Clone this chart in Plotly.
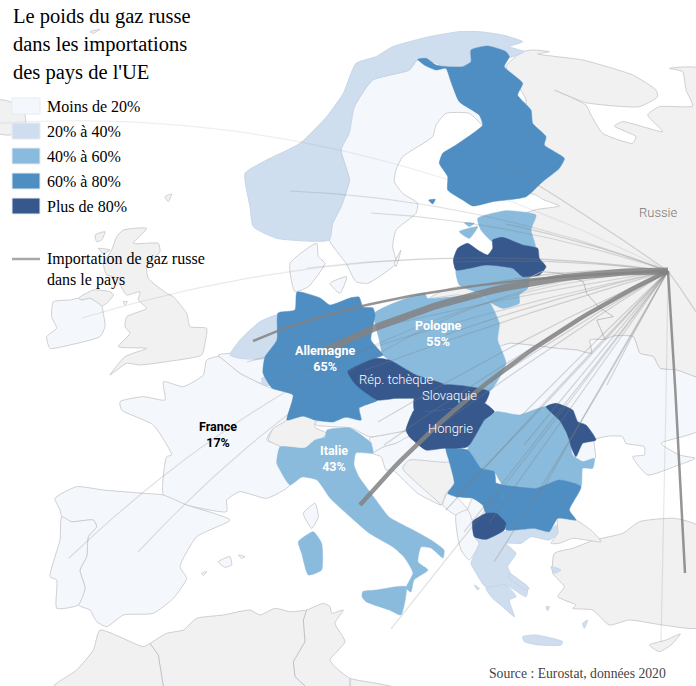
import numpy as np
import plotly.graph_objects as go

TITLE_LINES = ["Le poids du gaz russe", "dans les importations", "des pays de l'UE"]
BIN_LABELS = ["Moins de 20%", "20% à 40%", "40% à 60%", "60% à 80%", "Plus de 80%"]
BIN_COLORS = ["#f4f8fc", "#cfdeef", "#8abbdc", "#4f8ec3", "#37588c"]
GREY = "#f1f1f1"
EDGE = "#c9c9ce"

def at(ox, oy, pts):
    return [(ox + a / 3, oy + b / 3) for a, b in pts]

RUSSIA = (at(346, 0, [(530,155),(560,150),(610,155),(575,162),(710,180),(860,225),(930,270),(935,290),(880,320),(720,308),(625,270),(720,315),(735,345),(770,400),(860,430),(870,410),(805,378),(830,365),(950,395),(905,345),(940,320),(1040,318),(1020,270),(1010,215),(970,205),(1060,205),(1060,400)])
          + [(700, 377)]
          + at(480, 250, [(645,380),(590,360),(540,355),(520,320),(480,310),(460,260),(400,258),(375,268),(330,270),(335,310),(290,300),(230,295),(150,285),(90,280),(55,292),(20,292)])
          + at(346, 0, [(430,900),(520,790),(500,660),(565,630),(640,618),(590,598),(570,585),(500,560),(540,300),(480,200)]))
KALININGRAD = at(346, 0, [(250,895),(290,872),(340,860),(400,880),(402,888),(330,885)])
TURKEY_A = at(346, 340, [(625,640),(680,625),(745,600),(830,580),(880,545),(985,535),(1060,560),(1060,862),(950,855),(850,840),(790,855),(740,810),(680,805),(690,795),(635,770),(655,740),(620,700)])
TURKEY_E = at(346, 340, [(635,535),(690,540),(740,575),(765,605),(680,595),(640,610),(615,610),(635,580)])
CYPRUS = at(346, 340, [(910,915),(960,900),(1003,882),(975,915),(940,935)])
AFRICA = (at(0, 340, [(160,1040),(230,990),(280,930),(300,870)])
          + at(150, 580, [(-20,200),(0,190),(50,160),(100,150),(140,115),(220,105),(300,90),(330,105),(375,85),(420,95),(470,90),(520,70),(540,80),(545,100),(580,90),(555,130),(585,185),(540,240),(560,265),(600,295),(680,310),(720,318),(780,330)]))
GB = at(30, 220, [(260,50),(280,30),(350,25),(310,70),(385,70),(390,95),(350,140),(355,175),(410,220),(430,230),(470,280),(480,320),(530,325),(525,370),(515,405),(410,425),(330,435),(290,430),(240,465),(285,410),(350,385),(265,380),(300,340),(285,320),(290,290),(350,265),(325,240),(330,215),(290,225),(265,185),(250,170),(230,165),(220,130),(245,90)])
N_IRELAND = at(30, 220, [(145,235),(190,210),(240,215),(250,225),(230,250),(215,258),(180,235),(155,240)])
IRELAND = at(30, 220, [(70,245),(120,240),(145,235),(155,240),(180,235),(215,258),(220,280),(225,320),(210,350),(120,375),(60,385),(50,350),(80,325),(65,290)])
ICELAND = at(0, 0, [(-5,300),(30,305),(75,345),(75,385),(30,405),(-5,400)])
ISLES = [at(30, 220, [(195,45),(225,35),(215,60),(200,65)]), at(30, 220, [(205,85),(240,90),(220,100)]), at(30, 220, [(280,245),(292,245),(285,255)]),
         at(0, 0, [(495,590),(515,582),(505,605)]), at(0, 0, [(270,95),(300,88),(280,100)])]
BOSNIA = at(346, 340, [(170,385),(190,360),(310,365),(325,430),(300,460),(285,495)])
SWISS = at(0, 340, [(805,300),(820,265),(860,240),(910,228),(945,240),(945,262),(980,280),(960,300),(915,325),(880,325),(840,320)])

SWEDEN = at(346, 0, [(0,790),(-50,720),(-40,670),(-15,620),(10,540),(-15,450),(0,410),(25,320),(80,240),(190,210),(215,180),(240,195),(300,205),(315,245),(340,305),(400,345),(410,375),(370,340),(300,340),(270,375),(260,410),(170,470),(150,510),(145,545),(170,580),(215,610),(210,640),(150,690),(140,740),(150,790),(100,830),(65,850),(30,845)])
GOTLAND = at(346, 0, [(165,750),(150,800),(145,790)])
DENMARK = at(0, 0, [(870,790),(950,730),(955,770),(975,790),(925,860),(885,875)])
DK_ISLE = at(0, 0, [(990,850),(1040,830),(1020,880)])
BELGIUM = at(0, 340, [(655,45),(690,40),(790,45),(810,105),(785,130),(720,100)])
FRANCE = at(0, 340, [(655,50),(620,60),(610,105),(550,140),(490,125),(495,180),(430,170),(360,185),(365,210),(460,255),(515,345),(500,350),(490,465),(560,495),(680,515),(680,480),(720,455),(800,475),(870,435),(830,370),(840,320),(800,300),(820,265),(860,240),(880,165),(815,145),(790,135),(720,100)])
CORSICA = at(0, 340, [(910,520),(945,490),(955,530),(935,565)])
SPAIN = at(0, 340, [(165,475),(230,440),(310,450),(430,460),(490,465),(560,495),(690,540),(590,590),(540,680),(560,715),(520,775),(460,820),(370,825),(320,860),(290,845),(270,810),(235,795),(255,745),(240,690),(260,650),(265,590),(290,560),(280,540),(215,545),(185,530),(180,510)])
PORTUGAL = at(0, 340, [(185,530),(215,545),(280,540),(290,560),(265,590),(260,650),(240,690),(255,745),(235,795),(170,805),(170,720),(150,710),(180,600)])
BALEARIC = [at(0, 340, [(655,665),(690,650),(695,675),(675,682)]), at(0, 340, [(715,645),(735,650),(725,655)]), at(0, 340, [(605,700),(620,695),(610,707)])]
AUSTRIA = at(346, 340, [(-90,245),(0,232),(45,240),(40,205),(95,180),(150,175),(205,175),(210,210),(190,240),(180,270),(115,285),(70,290),(20,265),(0,262),(-90,255)])
SLOVENIA = at(346, 340, [(70,295),(115,285),(180,275),(190,290),(150,310),(115,320),(80,340),(75,310)])
CROATIA = at(346, 340, [(80,340),(115,320),(150,310),(190,290),(240,330),(300,325),(310,365),(190,360),(170,385),(285,495),(215,460),(140,390),(120,390),(105,350)])
UKRAINE = (at(480, 250, [(55,292),(90,280),(150,285),(230,295),(290,300),(335,310),(330,270),(375,268),(400,258),(460,260),(480,310),(520,320),(540,355),(590,360),(645,380),(660,385)])
           + at(346, 340, [(1060,100),(1060,270),(945,310),(1000,345),(1047,355),(990,378),(905,405),(860,350),(895,345),(895,320),(840,310),(830,290),(790,288),(745,300),(748,355),(710,365),(600,300),(420,200),(440,100)]))
MONTENEGRO = at(346, 340, [(290,495),(305,460),(330,470),(365,510),(330,525)])
KOSOVO = at(346, 340, [(380,475),(410,495),(420,520),(380,545),(365,510)])
ALBANIA = at(346, 340, [(330,525),(365,510),(380,545),(385,590),(400,610),(370,660),(345,630),(335,590)])

NORWAY = at(0, 0, [(830,715),(760,680),(750,620),(735,520),(800,480),(900,430),(980,350),(1030,280)]) + at(346, 0, [(30,190),(90,170),(140,140),(250,110),(340,95),(400,95),(470,105),(530,125),(490,140),(535,155),(480,175),(470,160),(425,138),(375,150),(375,185),(350,200),(300,200),(240,178),(215,178),(190,210),(80,240),(25,320),(10,400),(-15,450),(10,540),(-15,620),(-40,670),(-50,720)])
NETHERLANDS = at(0, 0, [(835,945),(780,965),(720,1020),(690,1065),(720,1075),(795,1075),(830,1020)])
LUXEMBOURG = at(0, 340, [(785,115),(810,108),(815,135),(790,135)])
GREECE_M = at(346, 340, [(385,590),(420,598),(475,575),(565,565),(610,575),(630,555),(635,580),(610,600),(555,590),(525,610),(480,610),(510,640),(485,680),(500,710),(545,740),(540,770),(480,735),(420,742),(385,690),(375,670),(400,610)])
GREECE_P = at(346, 340, [(420,745),(480,735),(510,770),(490,780),(505,830),(470,800),(440,775)])
CRETE = at(346, 340, [(530,890),(570,885),(650,905),(645,915),(580,915),(535,905)])
GR_ISLES = [at(346, 340, [(490,700),(550,745),(540,750),(490,715)]), at(346, 340, [(385,735),(400,745),(395,750)]),
            at(346, 340, [(710,850),(725,840),(715,865)]), at(346, 340, [(615,680),(645,690),(625,700)]), at(346, 340, [(600,800),(610,800),(605,812)])]

ESTONIA = at(346, 0, [(395,655),(480,632),(570,645),(555,690),(568,740),(530,735),(470,712),(440,725),(405,690)])
EE_ISLES = [at(346, 0, [(340,695),(395,680),(370,715)]), at(346, 0, [(355,668),(385,670),(370,680)])]
LITHUANIA = at(346, 0, [(330,810),(420,795),(500,805),(530,830),(550,830),(545,865),(520,885),(520,910),(470,925),(430,905),(400,880),(340,855)])
POLAND = (at(346, 0, [(85,940),(235,880),(245,895),(400,885),(430,905),(460,970),(455,1020)])
          + at(346, 340, [(480,70),(430,155),(370,140),(295,135),(210,105),(130,60),(110,45),(100,0)]))
ITALY = [(280,447),(305,448),(315,440),(325,437),(327,430),(350,428),(368,440),(371,443),(373,453),(356,453),(354,465),(359,477),(376,500),(389,517),(413,530),(431,540),(444,550),(443,558),(431,548),(421,547),(418,562),(428,570),(414,580),(411,592),(406,588),(413,573),(404,557),(393,547),(369,533),(346,513),(330,498),(317,480),(302,477),(290,485),(277,463)]
SICILY = at(346, 340, [(48,770),(50,755),(90,750),(180,740),(165,825),(130,810),(60,785)])
SARDINIA = at(0, 340, [(895,605),(940,575),(965,610),(965,690),(925,705),(905,640)])
ROMANIA = at(346, 340, [(450,215),(520,225),(600,200),(640,240),(670,300),(680,345),(710,365),(745,355),(740,385),(710,385),(705,440),(640,420),(570,445),(470,435),(445,395),(405,385),(365,330),(415,240)])

FINLAND = at(346, 0, [(215,178),(240,175),(270,195),(300,200),(350,200),(375,185),(375,150),(425,138),(480,155),(490,170),(475,200),(530,250),(515,285),(555,330),(560,370),(600,410),(595,435),(655,475),(640,505),(590,545),(540,590),(440,605),(380,618),(350,600),(305,570),(305,530),(280,490),(290,460),(330,435),(410,375),(400,345),(340,305),(315,245),(300,205),(270,210),(235,195)])
ALAND = at(346, 0, [(248,600),(268,598),(260,612)])
GERMANY = [(297,292),(320,298),(330,305),(350,298),(359,297),(363,307),(373,308),(375,315),(371,340),(383,355),(376,358),(348,372),(356,385),(378,400),(359,408),(361,420),(346,417),(333,422),(315,420),(303,416),(287,420),(293,395),(272,388),(263,373),(265,357),(277,340),(278,313),(295,310)]
SERBIA = at(346, 340, [(300,325),(365,330),(405,385),(445,395),(450,430),(470,470),(450,520),(420,520),(410,495),(380,475),(330,470),(305,460),(325,430),(310,365)])
BULGARIA = at(346, 340, [(450,430),(470,435),(570,445),(640,420),(705,440),(670,510),(690,540),(635,535),(610,575),(565,565),(480,570),(480,550),(450,520),(470,470)])

LATVIA = at(346, 0, [(322,780),(335,745),(365,730),(395,750),(425,765),(440,745),(440,720),(470,712),(530,735),(575,745),(580,775),(600,800),(580,825),(530,830),(500,805),(420,795),(330,810)])
CZECHIA = at(346, 340, [(5,95),(90,55),(130,60),(210,105),(295,135),(240,175),(205,175),(150,175),(95,180),(30,135)])
SLOVAKIA = at(346, 340, [(205,175),(240,175),(295,135),(370,140),(430,155),(415,190),(320,205),(240,215),(205,210)])
HUNGARY = at(346, 340, [(205,210),(240,215),(320,205),(415,190),(445,215),(415,240),(365,320),(290,325),(240,330),(190,290),(180,270),(190,240)])
MOLDOVA = at(346, 340, [(600,200),(630,190),(680,210),(695,245),(720,255),(750,300),(710,310),(690,350),(675,320),(670,300),(660,275),(640,240)])
MACEDONIA = at(346, 340, [(380,545),(420,520),(450,520),(480,550),(475,570),(420,598),(385,590)])

GREY_SHAPES = [RUSSIA, KALININGRAD, TURKEY_A, TURKEY_E, CYPRUS, AFRICA, GB, N_IRELAND, ICELAND, BOSNIA, SWISS] + ISLES
BIN0 = [SWEDEN, GOTLAND, DENMARK, DK_ISLE, IRELAND, BELGIUM, FRANCE, CORSICA, SPAIN, PORTUGAL, AUSTRIA, SLOVENIA, CROATIA, UKRAINE, MONTENEGRO, KOSOVO, ALBANIA] + BALEARIC
BIN1 = [NORWAY, NETHERLANDS, LUXEMBOURG, GREECE_M, GREECE_P, CRETE] + GR_ISLES
BIN2 = [ESTONIA, LITHUANIA, POLAND, ITALY, SICILY, SARDINIA, ROMANIA] + EE_ISLES
BIN3 = [FINLAND, ALAND, GERMANY, SERBIA, BULGARIA]
BIN4 = [LATVIA, CZECHIA, SLOVAKIA, HUNGARY, MOLDOVA, MACEDONIA]

BORDERS = [
    at(480, 250, [(145,85),(185,65),(245,70),(310,95),(320,130),(355,170),(400,200),(350,210),(375,268)]),
    at(150, 580, [(0,190),(25,225),(40,318)]),
    at(150, 580, [(470,90),(460,120),(465,185),(430,245),(435,290),(465,318)]),
    at(150, 580, [(600,295),(600,318)]),
]

SOURCE = (668, 271)
FLOW_END_X = [-10, 82, 307, 290, 371, 501, 506, 455, 480, 247, 268, 69, 138, 378, 384, 365, 470, 440, 524, 533, 456, 489, 464, 446, 494, 391, 522, 607, 661, 720, 445]
FLOW_END_Y = [124, 318, 268, 191, 213, 162, 224, 262, 285, 362, 382, 558, 552, 422, 445, 370, 395, 425, 445, 507, 497, 523, 532, 510, 562, 629, 415, 385, 642, 350, 335]
FLOW_MID_X = [330, 375, 490, 480, 520, 585, 590, 560, 575, 455, 465, 360, 403, 525, 525, 515, 570, 555, 598, 600, 565, 580, 568, 558, 585, 532, 595, 637, 665, 695, 555]
FLOW_MID_Y = [148, 262, 258, 215, 232, 215, 245, 262, 272, 310, 320, 352, 340, 340, 352, 318, 330, 345, 355, 388, 383, 395, 400, 388, 415, 450, 342, 327, 455, 310, 300]
FLOW_ALPHA = [0.12, 0.16, 0.2, 0.22, 0.25, 0.3, 0.3, 0.3, 0.3, 0.25, 0.25, 0.22, 0.22, 0.3, 0.3, 0.3, 0.3, 0.3, 0.3, 0.3, 0.3, 0.3, 0.3, 0.3, 0.3, 0.25, 0.3, 0.3, 0.18, 0.3, 0.3]
THICK_END_X = [253, 322, 360, 685]
THICK_END_Y = [341, 352, 505, 573]
THICK_MID_X = [427, 490, 500, 677]
THICK_MID_Y = [293, 291, 373, 420]
THICK_W = [2.5, 7, 4.5, 2.5]

LABELS_BOLD = [("Allemagne<br>65%", 325, 358, "white"), ("Pologne<br>55%", 438, 333, "white"),
               ("Italie<br>43%", 334, 458, "white"), ("France<br>17%", 218, 434, "black")]
LABELS_LIGHT = [("Rép. tchèque", 396, 379), ("Slovaquie", 449, 395), ("Hongrie", 450, 428)]

SERIF = "Liberation Serif, Times New Roman, serif"
ROBOTO = "Roboto, sans-serif"
fig = go.Figure()

def poly(pts, fill, edge, w=0.9):
    xs, ys = zip(*pts)
    fig.add_trace(go.Scatter(x=list(xs) + [xs[0]], y=list(ys) + [ys[0]], mode="lines", fill="toself",
                             fillcolor=fill, line=dict(color=edge, width=w, shape="spline", smoothing=0.5),
                             hoverinfo="skip", showlegend=False))

for p in GREY_SHAPES:
    poly(p, GREY, EDGE)
for p in BIN0:
    poly(p, BIN_COLORS[0], EDGE)
for p in BIN1:
    poly(p, BIN_COLORS[1], "#c3d3e6")
for p, c in zip([BIN2, BIN3, BIN4], BIN_COLORS[2:]):
    for q in p:
        poly(q, c, c, 0.5)
for b in BORDERS:
    xs, ys = zip(*b)
    fig.add_trace(go.Scatter(x=xs, y=ys, mode="lines", line=dict(color="#b9b9c2", width=0.9), hoverinfo="skip", showlegend=False))

def curve(ex, ey, mx, my):
    t = np.linspace(0, 1, 40)
    cx = 2 * mx - (ex + SOURCE[0]) / 2
    cy = 2 * my - (ey + SOURCE[1]) / 2
    return ((1-t)**2 * ex + 2*t*(1-t) * cx + t**2 * SOURCE[0],
            (1-t)**2 * ey + 2*t*(1-t) * cy + t**2 * SOURCE[1])

for ex, ey, mx, my, a in zip(FLOW_END_X, FLOW_END_Y, FLOW_MID_X, FLOW_MID_Y, FLOW_ALPHA):
    x, y = curve(ex, ey, mx, my)
    fig.add_trace(go.Scatter(x=x, y=y, mode="lines", line=dict(color=f"rgba(125,125,125,{a})", width=1.2), hoverinfo="skip", showlegend=False))
for ex, ey, mx, my, w in zip(THICK_END_X, THICK_END_Y, THICK_MID_X, THICK_MID_Y, THICK_W):
    x, y = curve(ex, ey, mx, my)
    fig.add_trace(go.Scatter(x=x, y=y, mode="lines", line=dict(color="rgba(130,130,130,0.85)", width=w), hoverinfo="skip", showlegend=False))

ann = []
def text(t, x, y, size, color="black", family=SERIF, anchor="left", weight=None):
    f = dict(size=size, color=color, family=family)
    if weight:
        f["weight"] = weight
    ann.append(dict(text=t, x=x, y=y, xref="x", yref="y", showarrow=False, xanchor=anchor, yanchor="middle", font=f))

for i, line in enumerate(TITLE_LINES):
    text(line, 11, 16 + 28 * i, 20.5)
shapes = []
for i, (lab, col) in enumerate(zip(BIN_LABELS, BIN_COLORS)):
    y = 106 + 25 * i
    shapes.append(dict(type="rect", xref="x", yref="y", x0=12, x1=40, y0=y - 8, y1=y + 8, fillcolor=col, line=dict(color="#e6ebf2", width=1)))
    text(lab, 45, y, 16)
shapes.append(dict(type="line", xref="x", yref="y", x0=12, x1=40, y0=259, y1=259, line=dict(color="#a8a8a8", width=2.5)))
text("Importation de gaz russe", 45, 259, 16)
text("dans le pays", 45, 280, 16)
text("Source : Eurostat, données 2020", 487, 673, 13.7, color="#444444")
text("Russie", 658, 212, 13, color="#777777", family=ROBOTO, anchor="center", weight=300)
for t, x, y, c in LABELS_BOLD:
    text("<b>" + t + "</b>", x, y, 12.5, color=c, family=ROBOTO, anchor="center")
for t, x, y in LABELS_LIGHT:
    text(t, x, y, 13, color="white", family=ROBOTO, anchor="center", weight=300)

fig.update_layout(width=696, height=686, margin=dict(l=0, r=0, t=0, b=0), paper_bgcolor="white", plot_bgcolor="white",
                  xaxis=dict(range=[0, 696], visible=False, fixedrange=True),
                  yaxis=dict(range=[686, 0], visible=False, fixedrange=True),
                  annotations=ann, shapes=shapes, showlegend=False)
fig.write_html("out.html", config=dict(displayModeBar=False), post_script="document.body.style.margin='0';")
